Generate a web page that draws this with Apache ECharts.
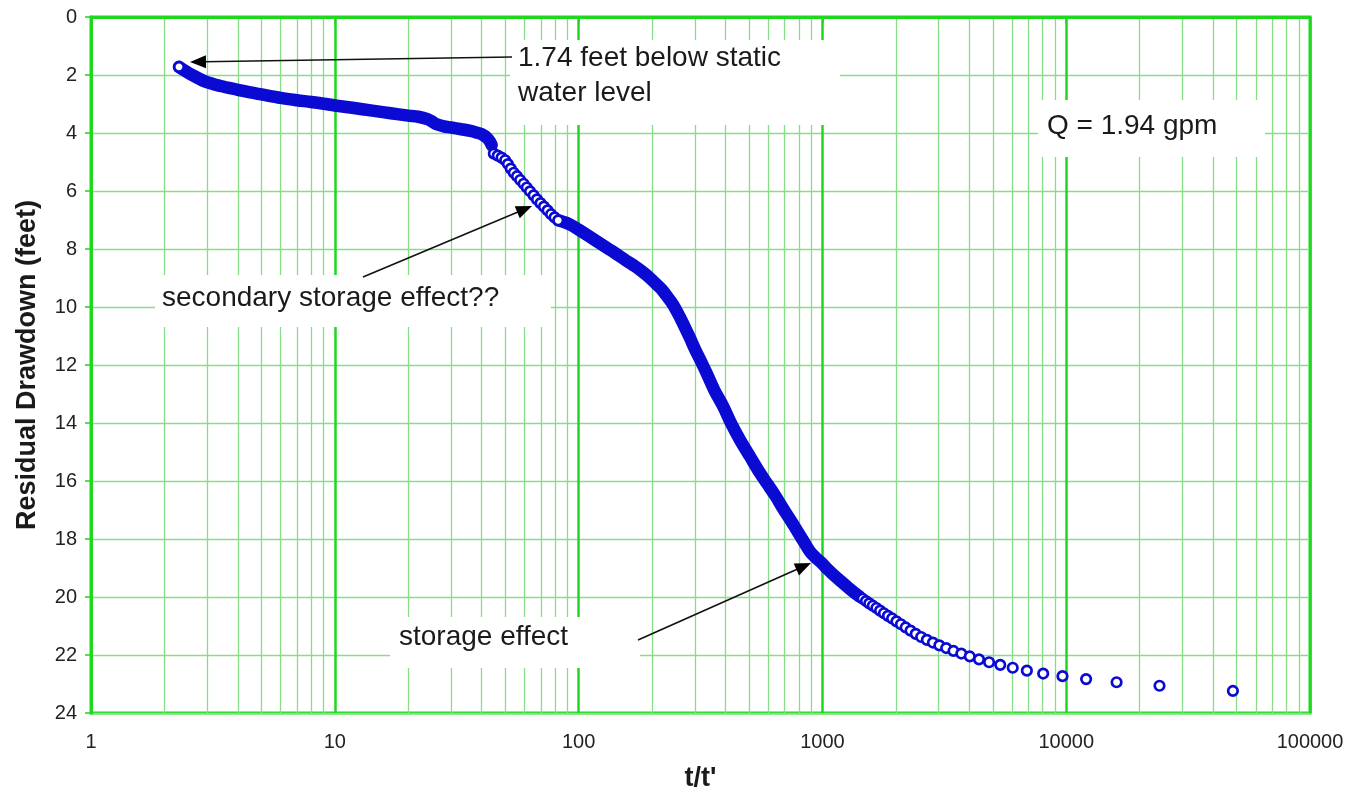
<!DOCTYPE html>
<html><head><meta charset="utf-8">
<script src="https://cdn.jsdelivr.net/npm/echarts@6/dist/echarts.min.js"></script>
<style>html,body{margin:0;padding:0;background:#fff}#c{width:1352px;height:800px}</style>
</head><body><div id="c"></div>
<script>
// ---- data (t/t' , residual drawdown in feet) ----
// early dense part of the record (drawn as a solid band of overlapping markers)
const earlyX = [2.296, 2.6, 2.93, 3.4, 4, 4.5, 5, 6, 7, 8, 9, 10, 12, 14, 16, 18, 20, 22, 24, 25, 26, 28, 30, 33, 36, 38, 40, 42, 43.3, 44];
const earlyY = [1.72, 2.0, 2.22, 2.38, 2.51, 2.60, 2.67, 2.79, 2.87, 2.93, 2.99, 3.05, 3.14, 3.22, 3.29, 3.35, 3.40, 3.44, 3.52, 3.60, 3.69, 3.77, 3.81, 3.87, 3.93, 3.98, 4.04, 4.16, 4.30, 4.42];
// individually visible points around t/t' 45-83
const midX = [44.9, 46.6, 48.3, 50.0, 51.3, 52.7, 54.2, 55.9, 57.6, 59.5, 61.3, 63.2, 65.4, 67.5, 69.8, 72.1, 74.6, 77.1, 79.7, 82.5];
const midY = [4.71, 4.78, 4.85, 4.94, 5.07, 5.23, 5.37, 5.49, 5.62, 5.75, 5.88, 6.01, 6.15, 6.29, 6.42, 6.54, 6.67, 6.80, 6.91, 7.01];
// second dense part
const lateX = [82.5, 92, 100, 110, 120, 130, 140, 150, 160, 170, 180, 190, 200, 210, 220, 230, 240, 250, 260, 270, 285, 300, 320, 335, 360, 392, 422, 459, 505, 555, 591, 640, 691, 740, 785, 840, 889, 940, 993, 1050, 1108, 1180, 1258, 1340, 1420];
const lateY = [7.01, 7.15, 7.33, 7.55, 7.76, 7.95, 8.12, 8.29, 8.45, 8.59, 8.74, 8.90, 9.07, 9.24, 9.41, 9.62, 9.83, 10.07, 10.34, 10.62, 11.03, 11.45, 11.93, 12.28, 12.86, 13.43, 14.01, 14.58, 15.16, 15.73, 16.07, 16.5, 16.96, 17.35, 17.7, 18.1, 18.43, 18.65, 18.83, 19.04, 19.23, 19.43, 19.63, 19.82, 19.98];
// sparse tail of individually visible points
const tailX = [1463, 1509, 1557, 1609, 1665, 1724, 1788, 1857, 1931, 2012, 2099, 2195, 2299, 2414, 2541, 2682, 2840, 3018, 3219, 3449, 3714, 4023, 4389, 4828, 5364, 6035, 6897, 8047, 9656, 12070, 16093, 24140, 48280];
const tailY = [20.06, 20.14, 20.22, 20.30, 20.38, 20.47, 20.56, 20.65, 20.74, 20.84, 20.94, 21.05, 21.16, 21.27, 21.38, 21.48, 21.57, 21.67, 21.76, 21.86, 21.95, 22.05, 22.15, 22.25, 22.34, 22.44, 22.54, 22.64, 22.73, 22.83, 22.94, 23.06, 23.24];

const minorGridX = [2,3,4,5,6,7,8,9, 20,30,40,50,60,70,80,90, 200,300,400,500,600,700,800,900,
  2000,3000,4000,5000,6000,7000,8000,9000, 20000,30000,40000,50000,60000,70000,80000,90000];

const xAxisMin = 1, xAxisMax = 100000;
const yAxisMin = 0, yAxisMax = 24, yStep = 2;

const xTitle = "t/t'";
const yTitle = 'Residual Drawdown (feet)';
const notes = {
  top1: '1.74 feet below static',
  top2: 'water level',
  q: 'Q = 1.94 gpm',
  secondary: 'secondary storage effect??',
  storage: 'storage effect'
};

// ---- build ----
const zip = (xs, ys) => xs.map((x, i) => [x, ys[i]]);
const BLUE = '#0a0ad2';
const MAJOR = '#1ed81e';
const MINOR = '#86de86';
const FONT = "'Liberation Sans', Arial, sans-serif";

const chart = echarts.init(document.getElementById('c'), null, {renderer: 'canvas'});

function arrow(tail, tip) {
  const dx = tip[0] - tail[0], dy = tip[1] - tail[1];
  const len = Math.hypot(dx, dy), ux = dx / len, uy = dy / len;
  const L = 16, W = 6.5;
  const bx = tip[0] - ux * L, by = tip[1] - uy * L;
  const px = -uy, py = ux;
  return [
    {type: 'line', z: 10, shape: {x1: tail[0], y1: tail[1], x2: bx + ux * 2, y2: by + uy * 2},
      style: {stroke: '#111', lineWidth: 1.6}},
    {type: 'polygon', z: 10, shape: {points: [tip, [bx + px * W, by + py * W], [bx - px * W, by - py * W]]},
      style: {fill: '#000'}}
  ];
}
function box(x, y, w, h) {
  return {type: 'rect', z: 1, shape: {x, y, width: w, height: h}, style: {fill: '#fff'}};
}
function label(x, y, text) {
  return {type: 'text', z: 2, x, y, style: {text, fill: '#1a1a1a', font: '28px ' + FONT, textVerticalAlign: 'middle', textAlign: 'left'}};
}

const option = {
  animation: false,
  backgroundColor: '#fff',
  grid: {left: 91, right: 42, top: 17, bottom: 87, show: true, borderColor: MAJOR, borderWidth: 3, containLabel: false},
  xAxis: {
    type: 'log', logBase: 10, min: xAxisMin, max: xAxisMax,
    name: xTitle, nameLocation: 'middle', nameGap: 52,
    nameTextStyle: {fontFamily: FONT, fontSize: 27, fontWeight: 'bold', color: '#1a1a1a'},
    axisLine: {show: true, lineStyle: {color: MAJOR, width: 3}},
    axisTick: {show: true, length: 6, lineStyle: {color: MAJOR, width: 1.5}},
    axisLabel: {fontFamily: FONT, fontSize: 20, color: '#222', margin: 19,
      formatter: v => String(Math.round(v))},
    splitLine: {show: true, lineStyle: {color: MAJOR, width: 2.5}}
  },
  yAxis: {
    type: 'value', inverse: true, min: yAxisMin, max: yAxisMax, interval: yStep,
    name: yTitle, nameLocation: 'middle', nameGap: 50,
    nameTextStyle: {fontFamily: FONT, fontSize: 27, fontWeight: 'bold', color: '#1a1a1a'},
    axisLine: {show: true, lineStyle: {color: MAJOR, width: 3}},
    axisTick: {show: true, length: 6, lineStyle: {color: MAJOR, width: 1.5}},
    axisLabel: {fontFamily: FONT, fontSize: 20, color: '#222', margin: 14},
    splitLine: {show: true, lineStyle: {color: MINOR, width: 1.3}}
  },
  series: [
    {
      type: 'line', data: [], z: 0, silent: true,
      markLine: {
        silent: true, z: 0, symbol: ['none', 'none'], animation: false,
        label: {show: false},
        lineStyle: {color: MINOR, width: 1.3, type: 'solid'},
        emphasis: {disabled: true},
        data: minorGridX.map(v => ({xAxis: v}))
      }
    },
    {
      type: 'line', data: zip(earlyX, earlyY), showSymbol: false, smooth: 0.35, z: 3,
      lineStyle: {color: BLUE, width: 12.5, cap: 'round', join: 'round'}
    },
    {
      type: 'line', data: zip(lateX, lateY), showSymbol: false, smooth: 0.35, z: 3,
      lineStyle: {color: BLUE, width: 12.5, cap: 'round', join: 'round'}
    },
    {
      type: 'scatter', z: 4,
      data: [[earlyX[0], earlyY[0]]].concat(zip(midX, midY), zip(tailX, tailY)),
      symbol: 'circle', symbolSize: 9.5,
      itemStyle: {color: '#fff', borderColor: BLUE, borderWidth: 2.7, opacity: 1}
    }
  ],
  graphic: {
    elements: [
      box(510, 40, 330, 85),
      box(1038, 100, 227, 57),
      box(155, 275, 396, 52),
      box(390, 617, 250, 51),
      label(518, 58, notes.top1),
      label(518, 93, notes.top2),
      label(1047, 126, notes.q),
      label(162, 298, notes.secondary),
      label(399, 637, notes.storage),
      ...arrow([512, 57], [190, 62]),
      ...arrow([363, 277], [532, 206]),
      ...arrow([638, 640], [811, 563])
    ]
  }
};
chart.setOption(option);
</script>
</body></html>
